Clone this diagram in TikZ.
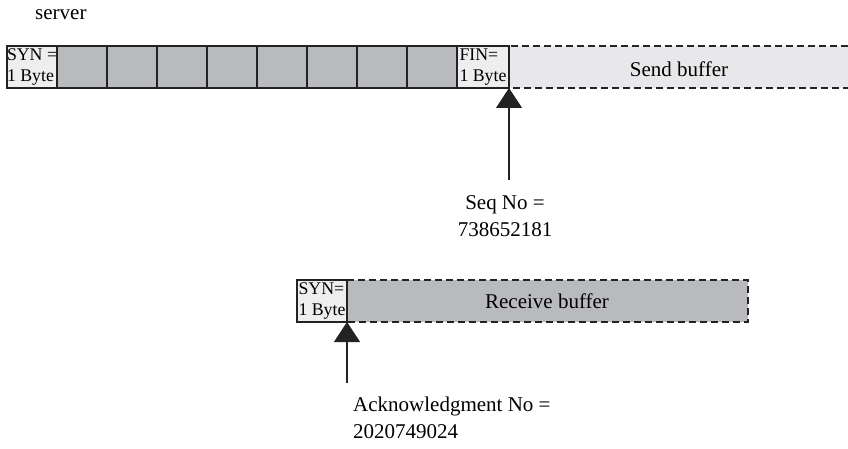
\documentclass[tikz,border=0pt]{standalone}
\usepackage{fontspec}
\setmainfont{Liberation Serif}
\usetikzlibrary{arrows.meta}
\definecolor{cellgray}{RGB}{185,186,189}
\definecolor{buflight}{RGB}{232,232,234}
\definecolor{synlight}{RGB}{238,238,238}
\definecolor{linecol}{RGB}{35,35,35}
\tikzset{
  cellbox/.style={draw=linecol, line width=1.1pt, minimum width=50pt, minimum height=42pt, inner sep=0pt, outer sep=0pt},
  graycell/.style={cellbox, fill=cellgray},
  flagcell/.style={cellbox, fill=synlight, align=left, font=\fontsize{17.8}{21}\selectfont},
  lbl/.style={font=\fontsize{21}{27}\selectfont, inner sep=0pt},
  ptr/.style={draw=linecol, line width=1.2pt, -{Triangle[width=26pt,length=20pt]}},
  dashedge/.style={draw=linecol, line width=1.1pt, dash pattern=on 7pt off 4pt}
}
\begin{document}
\begin{tikzpicture}[x=1pt,y=-1pt]
\useasboundingbox (0,0) rectangle (848,449);
% title
\node[lbl, anchor=base west] (title) at (35,20) {server};
% send buffer background
\fill[buflight] (509,46) rectangle (848,88);
\draw[dashedge] (848,46) -- (509,46) -- (509,88) -- (848,88);
\node[lbl] (sendbuf) at (679,69) {Send buffer};
% top row cells
\node[flagcell, anchor=north west] (syn1) at (7,46) {SYN =\\1 Byte};
\foreach \i in {1,...,8} {
  \node[graycell, anchor=north west] (c\i) at ({7+50*\i},46) {};
}
\node[flagcell, anchor=north west, minimum width=52pt] (fin) at (457,46) {FIN=\\1 Byte};
% seq pointer
\node[lbl, align=center, anchor=north] (seq) at (505,195) {Seq No =\\738652181};
\coordinate (seqtop) at (509,180);
\draw[ptr] (seqtop) -- (fin.south east);
% receive buffer
\fill[cellgray] (347,280) rectangle (748,322);
\draw[dashedge] (347,280) -- (748,280) -- (748,322) -- (347,322);
\node[lbl] (recvbuf) at (547,301) {Receive buffer};
\node[flagcell, anchor=north west] (syn2) at (297,280) {SYN=\\1 Byte};
% ack pointer
\node[lbl, align=left, anchor=north west] (ack) at (353,397) {Acknowledgment No =\\2020749024};
\coordinate (acktop) at (347,383);
\draw[ptr] (acktop) -- (syn2.south east);
\end{tikzpicture}
\end{document}
